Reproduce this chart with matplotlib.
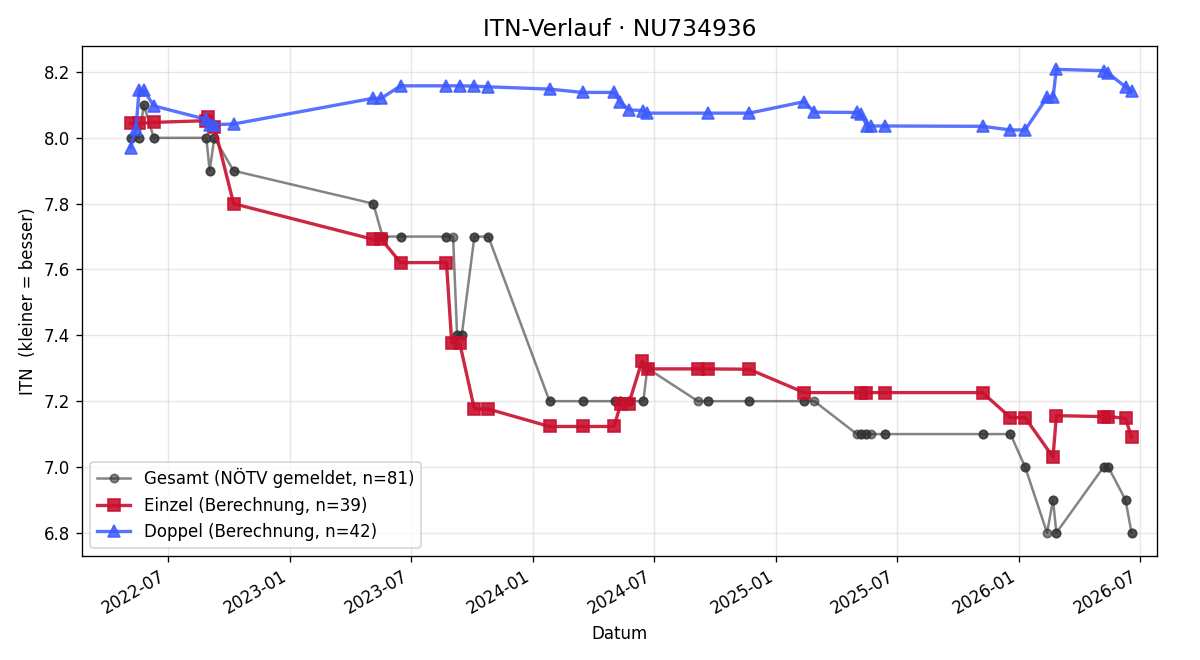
import numpy as np
import pandas as pd
import matplotlib
matplotlib.use("Agg")
import matplotlib.pyplot as plt
import matplotlib.dates as mdates

# ITN history for player NU734936
gesamt_dates = ["2022-05-06", "2022-05-19", "2022-05-26", "2022-06-10", "2022-08-28", "2022-09-02",
                "2022-09-09", "2022-10-08", "2023-05-06", "2023-05-20", "2023-06-16", "2023-08-24",
                "2023-09-03", "2023-09-09", "2023-09-16", "2023-10-05", "2023-10-26", "2024-01-26",
                "2024-03-16", "2024-05-03", "2024-05-11", "2024-05-24", "2024-06-15", "2024-06-21",
                "2024-09-05", "2024-09-20", "2024-11-21", "2025-02-12", "2025-02-27", "2025-05-02",
                "2025-05-09", "2025-05-16", "2025-05-23", "2025-06-13", "2025-11-07", "2025-12-19",
                "2026-01-10", "2026-02-12", "2026-02-21", "2026-02-26", "2026-05-08", "2026-05-15",
                "2026-06-10", "2026-06-19"]
gesamt_itn = [8.0, 8.0, 8.1, 8.0, 8.0, 7.9, 8.0, 7.9, 7.8, 7.7, 7.7, 7.7,
              7.7, 7.4, 7.4, 7.7, 7.7, 7.2, 7.2, 7.2, 7.2, 7.2, 7.2, 7.3,
              7.2, 7.2, 7.2, 7.2, 7.2, 7.1, 7.1, 7.1, 7.1, 7.1, 7.1, 7.1,
              7.0, 6.8, 6.9, 6.8, 7.0, 7.0, 6.9, 6.8]
# number of reported entries per date (adds up to 81)
gesamt_n = [2, 2, 2, 2, 2, 2, 2, 2, 2, 2, 2, 2,
            1, 2, 2, 2, 2, 2, 2, 2, 2, 2, 2, 1,
            1, 2, 2, 2, 1, 1, 2, 2, 1, 2, 2, 2,
            2, 1, 2, 2, 2, 2, 2, 2]

einzel_dates = ["2022-05-06", "2022-05-19", "2022-06-10", "2022-08-28", "2022-08-31", "2022-09-09",
                "2022-10-08", "2023-05-05", "2023-05-18", "2023-06-16", "2023-08-24", "2023-09-01",
                "2023-09-13", "2023-10-05", "2023-10-26", "2024-01-26", "2024-03-16", "2024-05-02",
                "2024-05-12", "2024-05-24", "2024-06-13", "2024-06-22", "2024-09-05", "2024-09-20",
                "2024-11-21", "2025-02-12", "2025-05-09", "2025-05-16", "2025-06-13", "2025-11-07",
                "2025-12-19", "2026-01-10", "2026-02-21", "2026-02-26", "2026-05-09", "2026-05-15",
                "2026-06-10", "2026-06-19"]
einzel_itn = [8.044, 8.044, 8.047, 8.052, 8.064, 8.034, 7.800, 7.692, 7.692, 7.621, 7.621, 7.376,
              7.376, 7.176, 7.176, 7.123, 7.123, 7.123, 7.191, 7.191, 7.322, 7.298, 7.298, 7.298,
              7.297, 7.226, 7.226, 7.226, 7.226, 7.226, 7.150, 7.150, 7.030, 7.156, 7.153, 7.153,
              7.148, 7.090]

doppel_dates = ["2022-05-06", "2022-05-14", "2022-05-19", "2022-05-26", "2022-06-10", "2022-08-28",
                "2022-09-03", "2022-09-08", "2022-10-08", "2023-05-05", "2023-05-18", "2023-06-16",
                "2023-08-24", "2023-09-14", "2023-10-05", "2023-10-26", "2024-01-26", "2024-03-16",
                "2024-05-02", "2024-05-11", "2024-05-24", "2024-06-14", "2024-06-21", "2024-09-20",
                "2024-11-21", "2025-02-12", "2025-02-27", "2025-05-02", "2025-05-09", "2025-05-17",
                "2025-05-23", "2025-06-13", "2025-11-07", "2025-12-19", "2026-01-10", "2026-02-12",
                "2026-02-21", "2026-02-26", "2026-05-08", "2026-05-15", "2026-06-10", "2026-06-19"]
doppel_itn = [7.970, 8.026, 8.145, 8.145, 8.097, 8.056, 8.040, 8.040, 8.042, 8.120, 8.120, 8.158,
              8.158, 8.158, 8.157, 8.155, 8.148, 8.138, 8.138, 8.110, 8.085, 8.083, 8.075, 8.075,
              8.075, 8.110, 8.078, 8.077, 8.072, 8.036, 8.036, 8.036, 8.035, 8.024, 8.024, 8.123,
              8.123, 8.208, 8.204, 8.196, 8.155, 8.143]

g_x = pd.to_datetime(np.repeat(gesamt_dates, gesamt_n))
g_y = np.repeat(gesamt_itn, gesamt_n)
e_x = pd.to_datetime(einzel_dates)
d_x = pd.to_datetime(doppel_dates)

fig, ax = plt.subplots(figsize=(10, 5.5), dpi=120)

ax.plot(g_x, g_y, color="#333333", alpha=0.6, marker="o", markersize=5, linewidth=1.5,
        label=f"Gesamt (NÖTV gemeldet, n={len(g_y)})")
ax.plot(e_x, einzel_itn, color="#c8102e", alpha=0.9, marker="s", markersize=7, linewidth=2,
        label="Einzel (Berechnung, n=39)")
ax.plot(d_x, doppel_itn, color="#3d5afe", alpha=0.85, marker="^", markersize=7, linewidth=2,
        label=f"Doppel (Berechnung, n={len(doppel_itn)})")

ax.set_xlim(pd.Timestamp("2022-02-22"), pd.Timestamp("2026-07-27"))
ax.xaxis.set_major_locator(mdates.MonthLocator(bymonth=[1, 7]))
ax.xaxis.set_major_formatter(mdates.DateFormatter("%Y-%m"))
ax.grid(True, alpha=0.3)
ax.set_title("ITN-Verlauf · NU734936", fontsize=14)
ax.set_xlabel("Datum")
ax.set_ylabel("ITN  (kleiner = besser)")
ax.legend(loc="lower left")
fig.autofmt_xdate()
fig.subplots_adjust(left=0.0683, right=0.964, top=0.930, bottom=0.1576)
fig.savefig("out.png")
